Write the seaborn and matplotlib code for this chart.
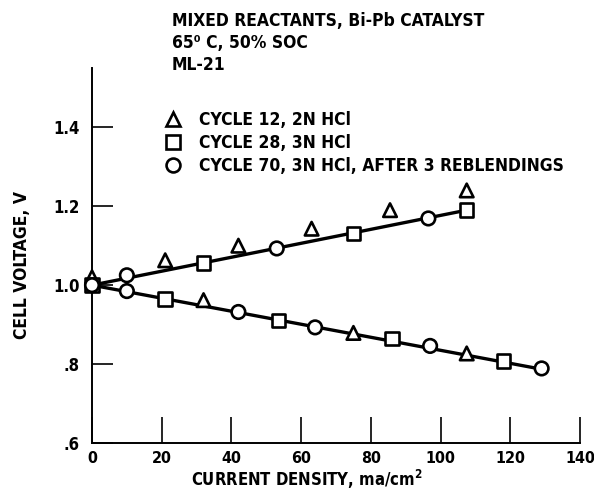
import pandas as pd
import matplotlib
matplotlib.use("Agg")
import matplotlib.pyplot as plt
import seaborn as sns
from matplotlib.lines import Line2D
from matplotlib.ticker import FixedLocator, FuncFormatter

# Data (current density ma/cm2, cell voltage V)
cyc12_x = [0, 21, 42, 63, 85.5, 107.5, 32, 75, 107.5]
cyc12_y = [1.02, 1.063, 1.10, 1.143, 1.19, 1.24, 0.962, 0.879, 0.827]
cyc28_x = [0, 32, 75, 107.5, 21, 53.5, 86, 118]
cyc28_y = [1.0, 1.056, 1.131, 1.19, 0.965, 0.911, 0.865, 0.808]
cyc70_x = [0, 10, 53, 96.5, 10, 42, 64, 97, 129]
cyc70_y = [1.0, 1.025, 1.093, 1.169, 0.985, 0.932, 0.893, 0.846, 0.789]

# faired lines through the points
upper_x = [0, 107.5]
upper_y = [1.0, 1.19]
lower_x = [0, 129]
lower_y = [1.0, 0.787]

labels = ["CYCLE 12, 2N HCl", "CYCLE 28, 3N HCl", "CYCLE 70, 3N HCl, AFTER 3 REBLENDINGS"]
markers = ["^", "s", "o"]
header = ["MIXED REACTANTS, Bi-Pb CATALYST", "65\u2070 C, 50% SOC", "ML-21"]
x_ticks = [0, 20, 40, 60, 80, 100, 120, 140]
y_ticks = [0.6, 0.8, 1.0, 1.2, 1.4]

sns.set_style("ticks")
plt.rcParams["font.family"] = ["DejaVu Sans"]
plt.rcParams["font.stretch"] = "condensed"
plt.rcParams["font.weight"] = "bold"
for key in ["text.color", "axes.labelcolor", "xtick.color", "ytick.color", "axes.edgecolor"]:
    plt.rcParams[key] = "black"

points = pd.concat([
    pd.DataFrame({"density": cyc12_x, "voltage": cyc12_y, "cycle": labels[0]}),
    pd.DataFrame({"density": cyc28_x, "voltage": cyc28_y, "cycle": labels[1]}),
    pd.DataFrame({"density": cyc70_x, "voltage": cyc70_y, "cycle": labels[2]}),
])
lines = pd.concat([
    pd.DataFrame({"density": upper_x, "voltage": upper_y, "run": "charge"}),
    pd.DataFrame({"density": lower_x, "voltage": lower_y, "run": "discharge"}),
])

fig = plt.figure(figsize=(5.94, 4.94), dpi=100)
ax = fig.add_axes([0.1549, 0.1032, 0.8215, 0.759])

sns.lineplot(data=lines, x="density", y="voltage", units="run", estimator=None,
             color="black", linewidth=2.4, ax=ax, zorder=2)
sns.scatterplot(data=points, x="density", y="voltage", style="cycle",
                markers=dict(zip(labels, markers)), s=95, color="white",
                edgecolor="black", linewidth=1.9, legend=False, ax=ax, zorder=3,
                clip_on=False)

ax.set_xlim(0, 140)
ax.set_ylim(0.6, 1.55)
ax.xaxis.set_major_locator(FixedLocator(x_ticks))
ax.yaxis.set_major_locator(FixedLocator(y_ticks))
ax.yaxis.set_major_formatter(FuncFormatter(lambda v, p: f"{v:.1f}".lstrip("0") if v < 1 else f"{v:.1f}"))
ax.tick_params(axis="x", direction="in", length=19, width=1.2, pad=6, labelsize=11.5)
ax.tick_params(axis="y", direction="in", length=15, width=1.2, pad=9, labelsize=12)
for lab in ax.get_xticklabels() + ax.get_yticklabels():
    lab.set_fontweight("bold")
sns.despine(ax=ax)
ax.spines["left"].set_linewidth(1.4)
ax.spines["bottom"].set_linewidth(1.4)
ax.set_xlabel("")
ax.set_ylabel("")

fig.text(307 / 594, 1 - 491 / 494, "CURRENT DENSITY, ma/cm$^2$", ha="center", va="bottom",
         fontsize=12, fontweight="bold")
fig.text(22 / 594, 1 - 265 / 494, "CELL VOLTAGE, V", ha="center", va="center",
         rotation=90, fontsize=12.5, fontweight="bold")

for i, line in enumerate(header):
    fig.text(172 / 594, 1 - (21 + 22 * i) / 494, line, ha="left", va="center",
             fontsize=12.5, fontweight="bold")

handles = [Line2D([], [], marker=m, ls="", mfc="white", mec="black", mew=1.9, ms=10)
           for m in markers]
ax.legend(handles, labels, loc="upper left", bbox_to_anchor=(0.13, 0.905),
          frameon=False, handlelength=1.2, handletextpad=0.9, labelspacing=0.3,
          borderaxespad=0, prop={"size": 12.5, "weight": "bold", "stretch": "condensed"})

fig.savefig("out.png", dpi=100)
